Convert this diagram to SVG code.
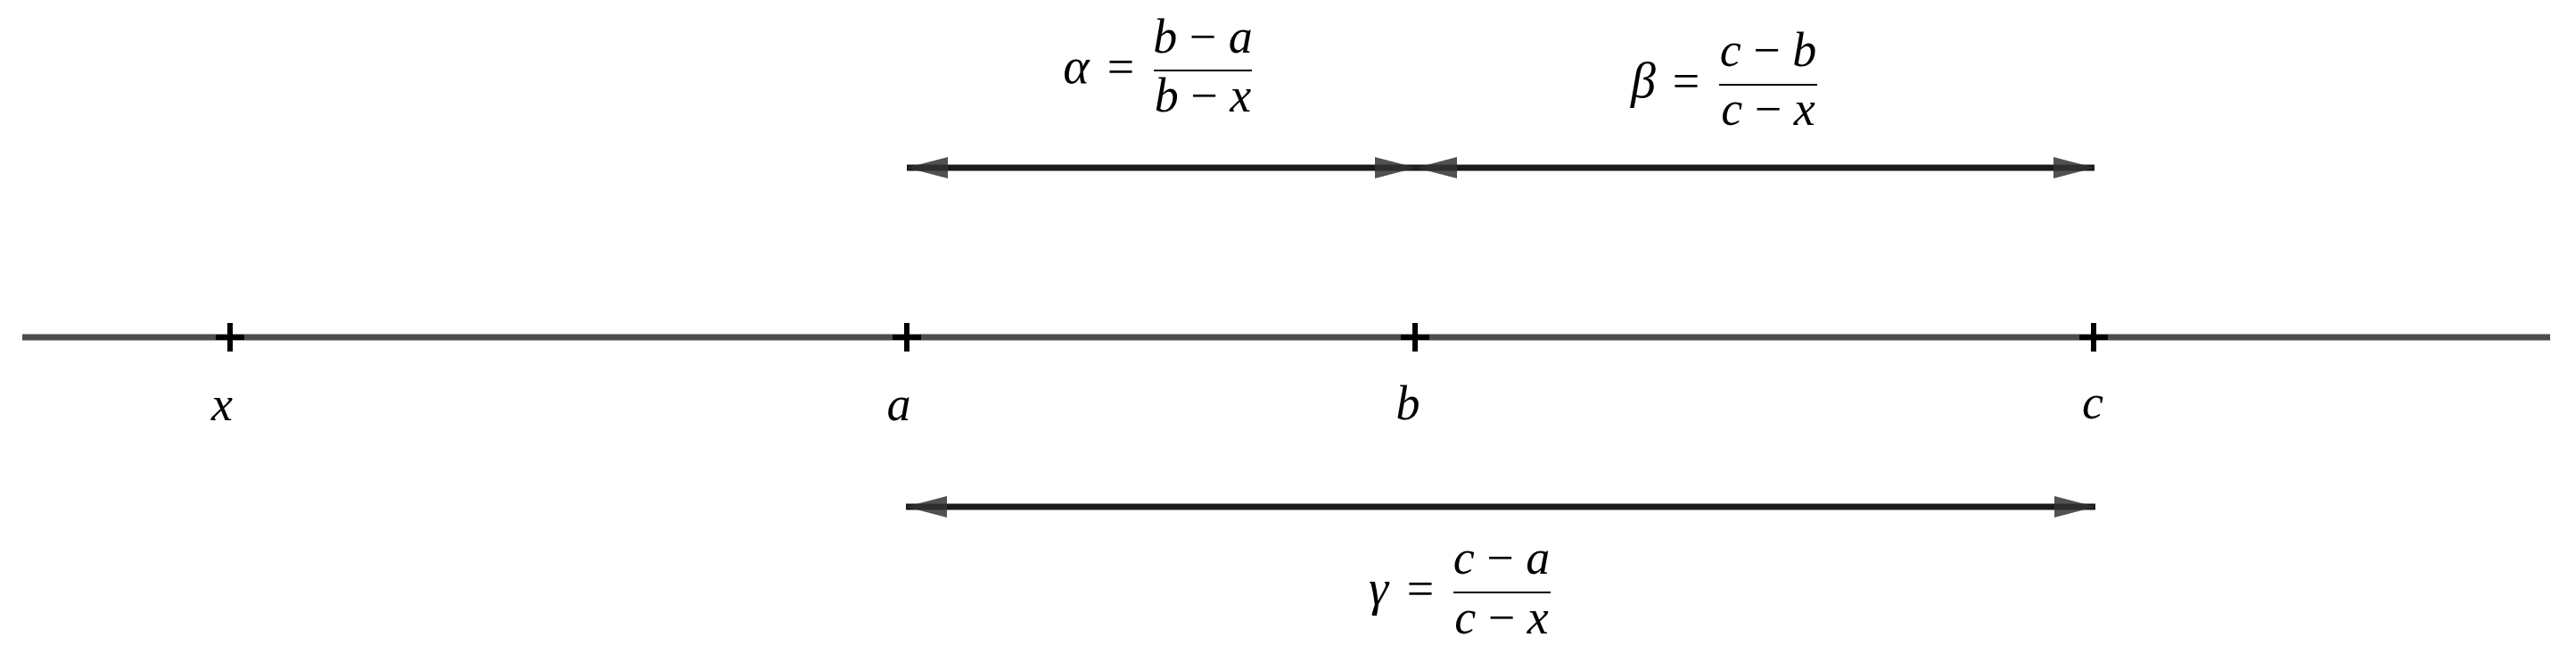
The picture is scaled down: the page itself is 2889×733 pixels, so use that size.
<svg xmlns="http://www.w3.org/2000/svg" width="2889" height="733" viewBox="0 0 2889 733">
  <style>
    .axis { stroke: #4d4d4d; stroke-width: 7; fill: none; }
    .tick { stroke: #000; stroke-width: 6; fill: none; }
    .conn { stroke: #1a1a1a; stroke-width: 7; fill: none; marker-start: url(#head); marker-end: url(#head); }
    .bar { stroke: #000; stroke-width: 2.2; }
  </style>
  <defs>
    <marker id="head" markerUnits="userSpaceOnUse" markerWidth="48" markerHeight="26" viewBox="0 -13 48 26" refX="46" refY="0" orient="auto-start-reverse">
      <path d="M0,-12 L46,0 L0,12 Z" fill="#333333" fill-opacity="0.85"/>
    </marker>
  </defs>
  <rect width="2889" height="733" fill="#ffffff"/>

  <g id="axis">
    <line class="axis" x1="25" y1="378" x2="2860" y2="378"/>
  </g>

  <g id="node-x">
    <path class="tick" d="M242,378 H274 M258,362 V394"/>
    <text x="249" y="471" font-family="Liberation Serif" font-size="54" font-style="italic" text-anchor="middle">x</text>
  </g>
  <g id="node-a">
    <path class="tick" d="M1001,378 H1033 M1017,362 V394"/>
    <text x="1008" y="471" font-family="Liberation Serif" font-size="54" font-style="italic" text-anchor="middle">a</text>
  </g>
  <g id="node-b">
    <path class="tick" d="M1571,378 H1603 M1587,362 V394"/>
    <text x="1579" y="470" font-family="Liberation Serif" font-size="54" font-style="italic" text-anchor="middle">b</text>
  </g>
  <g id="node-c">
    <path class="tick" d="M2332,378 H2364 M2348,362 V394"/>
    <text x="2347" y="469" font-family="Liberation Serif" font-size="54" font-style="italic" text-anchor="middle">c</text>
  </g>

  <g id="connectors">
    <line class="conn" x1="1017" y1="188" x2="1588" y2="188"/>
    <line class="conn" x1="1588" y1="188" x2="2349" y2="188"/>
    <line class="conn" x1="1016" y1="568" x2="2350" y2="568"/>
  </g>

  <g id="label-alpha">
    <text x="1207" y="93" font-family="Liberation Serif" font-size="56" font-style="italic" text-anchor="middle">α</text>
    <text x="1257" y="93" font-family="Liberation Serif" font-size="54" text-anchor="middle">=</text>
    <text x="1349" y="59" font-family="Liberation Serif" font-size="54" text-anchor="middle"><tspan font-family="Liberation Serif" font-style="italic">b</tspan> − <tspan font-family="Liberation Serif" font-style="italic">a</tspan></text>
    <line class="bar" x1="1294" y1="79" x2="1404" y2="79"/>
    <text x="1349" y="125" font-family="Liberation Serif" font-size="54" text-anchor="middle"><tspan font-family="Liberation Serif" font-style="italic">b</tspan> − <tspan font-family="Liberation Serif" font-style="italic">x</tspan></text>
  </g>

  <g id="label-beta">
    <text x="1843" y="109" font-family="Liberation Serif" font-size="56" font-style="italic" text-anchor="middle">β</text>
    <text x="1891" y="109" font-family="Liberation Serif" font-size="54" text-anchor="middle">=</text>
    <text x="1983" y="74" font-family="Liberation Serif" font-size="54" text-anchor="middle"><tspan font-family="Liberation Serif" font-style="italic">c</tspan> − <tspan font-family="Liberation Serif" font-style="italic">b</tspan></text>
    <line class="bar" x1="1928" y1="95" x2="2038" y2="95"/>
    <text x="1983" y="140" font-family="Liberation Serif" font-size="54" text-anchor="middle"><tspan font-family="Liberation Serif" font-style="italic">c</tspan> − <tspan font-family="Liberation Serif" font-style="italic">x</tspan></text>
  </g>

  <g id="label-gamma">
    <text x="1546" y="678" font-family="Liberation Serif" font-size="56" font-style="italic" text-anchor="middle">γ</text>
    <text x="1593" y="678" font-family="Liberation Serif" font-size="54" text-anchor="middle">=</text>
    <text x="1684" y="643" font-family="Liberation Serif" font-size="54" text-anchor="middle"><tspan font-family="Liberation Serif" font-style="italic">c</tspan> − <tspan font-family="Liberation Serif" font-style="italic">a</tspan></text>
    <line class="bar" x1="1630" y1="664" x2="1739" y2="664"/>
    <text x="1684" y="710" font-family="Liberation Serif" font-size="54" text-anchor="middle"><tspan font-family="Liberation Serif" font-style="italic">c</tspan> − <tspan font-family="Liberation Serif" font-style="italic">x</tspan></text>
  </g>
</svg>
